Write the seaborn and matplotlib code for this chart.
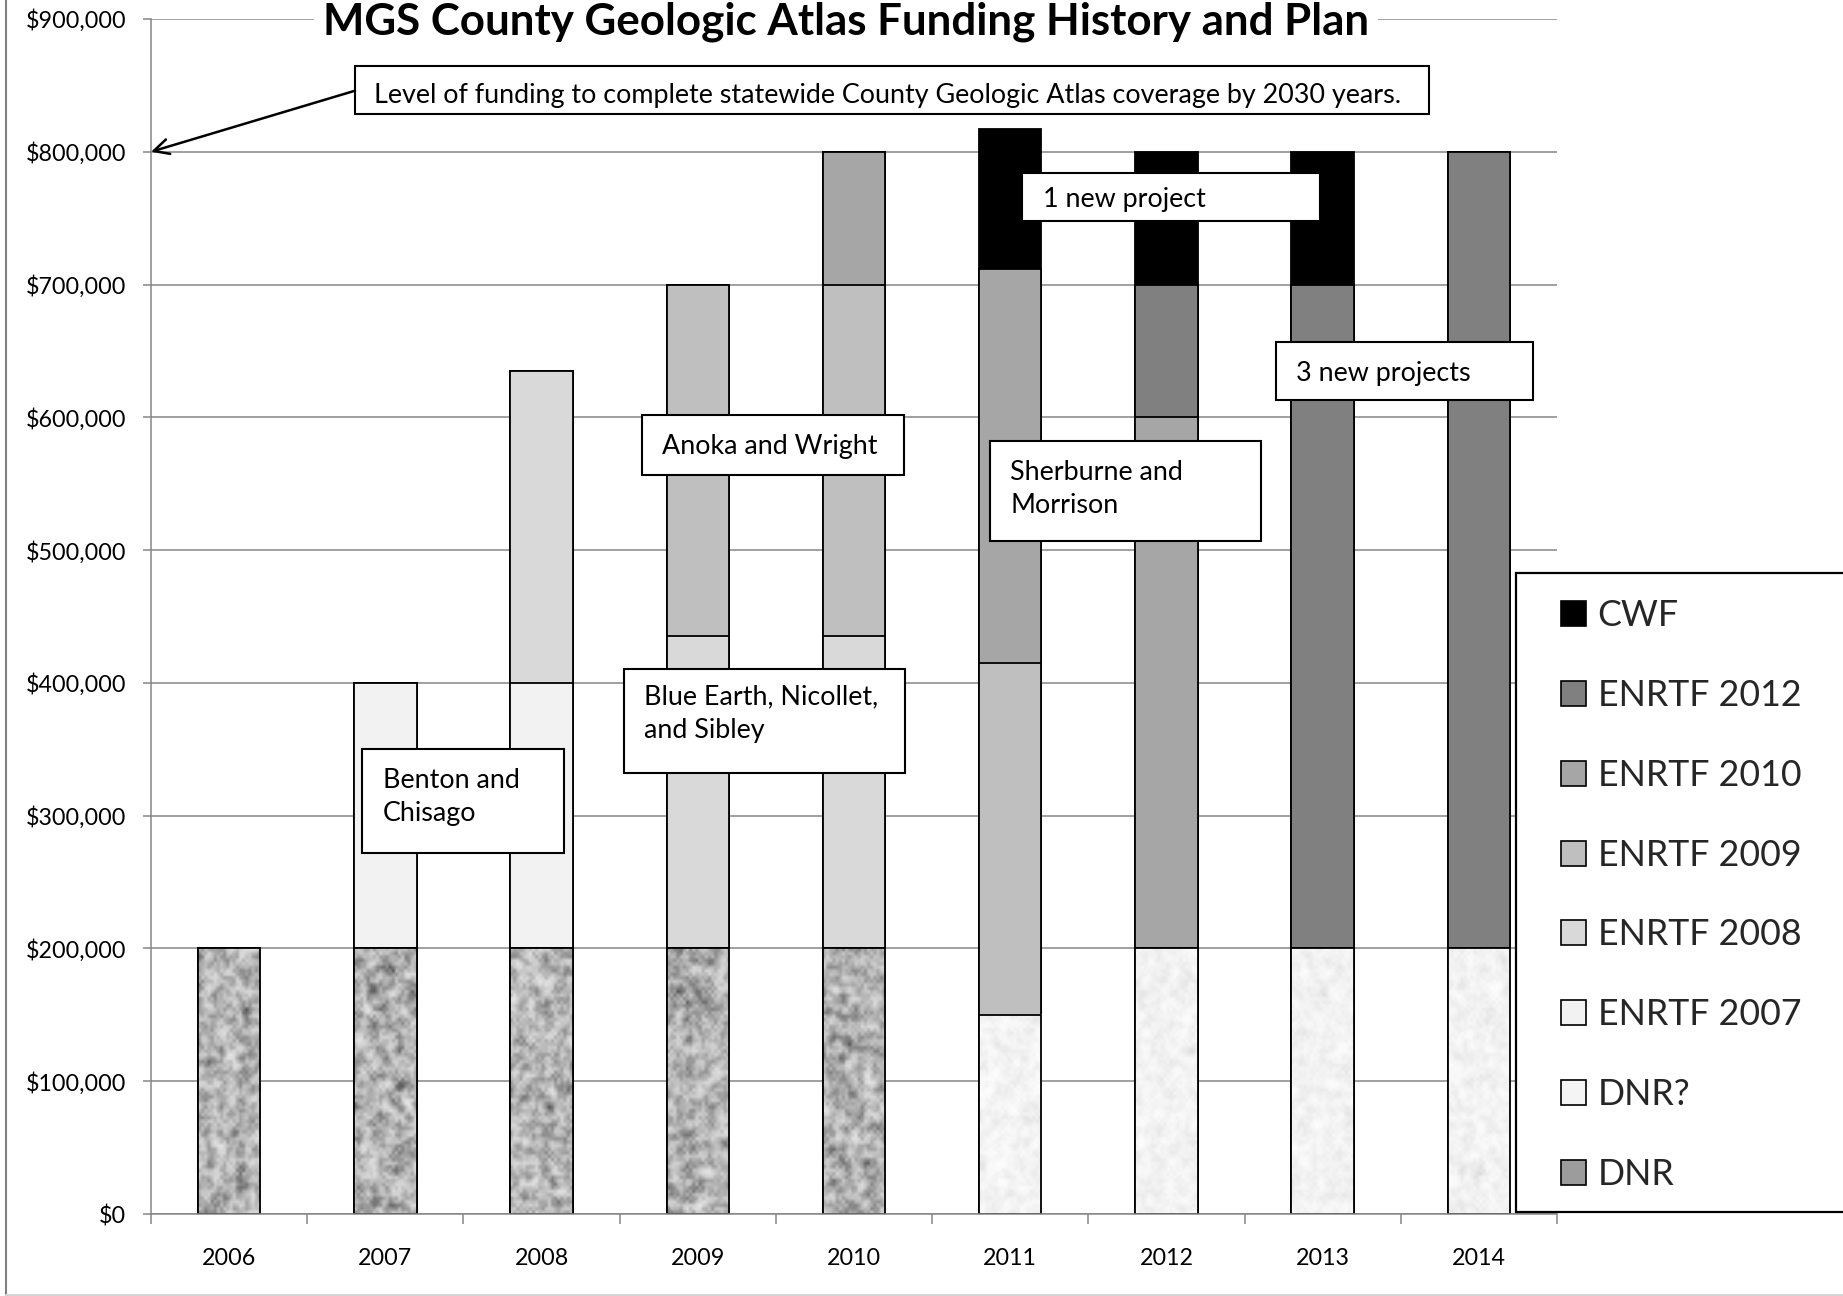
import numpy as np
import pandas as pd
import matplotlib
matplotlib.use("Agg")
import matplotlib.pyplot as plt
import seaborn as sns
from matplotlib.patches import Rectangle, Patch
from matplotlib.lines import Line2D

# ---------------- data ----------------
years = ["2006", "2007", "2008", "2009", "2010", "2011", "2012", "2013", "2014"]
dnr        = [200000, 200000, 200000, 200000, 200000, 0, 0, 0, 0]
dnr_q      = [0, 0, 0, 0, 0, 150000, 200000, 200000, 200000]
enrtf_2007 = [0, 200000, 200000, 0, 0, 0, 0, 0, 0]
enrtf_2008 = [0, 0, 235000, 235000, 235000, 0, 0, 0, 0]
enrtf_2009 = [0, 0, 0, 265000, 265000, 265000, 0, 0, 0]
enrtf_2010 = [0, 0, 0, 0, 100000, 297000, 400000, 0, 0]
enrtf_2012 = [0, 0, 0, 0, 0, 0, 100000, 500000, 600000]
cwf        = [0, 0, 0, 0, 0, 105000, 100000, 100000, 0]

series_names = ["DNR", "DNR?", "ENRTF 2007", "ENRTF 2008", "ENRTF 2009",
                "ENRTF 2010", "ENRTF 2012", "CWF"]
series_values = [dnr, dnr_q, enrtf_2007, enrtf_2008, enrtf_2009,
                 enrtf_2010, enrtf_2012, cwf]
series_colors = ["#a4a4a4", "#f0f0f0", "#f2f2f2", "#d9d9d9", "#bfbfbf",
                 "#a6a6a6", "#808080", "#000000"]

y_ticks = [0, 100000, 200000, 300000, 400000, 500000, 600000, 700000, 800000, 900000]
y_tick_labels = ["$0", "$100,000", "$200,000", "$300,000", "$400,000",
                 "$500,000", "$600,000", "$700,000", "$800,000", "$900,000"]

title_text = "MGS County Geologic Atlas Funding History and Plan"
level_note = "Level of funding to complete statewide County Geologic Atlas coverage by 2030 years."
level_value = 800000
notes = ["1 new project", "3 new projects", "Anoka and Wright",
         "Sherburne and\nMorrison", "Blue Earth, Nicollet,\nand Sibley",
         "Benton and\nChisago"]

# ---------------- style ----------------
sns.set_theme(style="white")
plt.rcParams["font.family"] = ["Lato", "DejaVu Sans"]
GRAY = "#868686"

W, H = 1843, 1296
fig = plt.figure(figsize=(W / 100, H / 100), dpi=100)
ax_l, ax_r, ax_t, ax_b = 151, 1557, 19, 1214
ax = fig.add_axes([ax_l / W, 1 - ax_b / H, (ax_r - ax_l) / W, (ax_b - ax_t) / H])
renderer = fig.canvas.get_renderer()


def fit_size(s, target_px, base=20, **kw):
    t = fig.text(0, 0, s, fontsize=base, **kw)
    w = t.get_window_extent(renderer).width
    t.remove()
    return base * target_px / w


# ---------------- stacked bars via cumulative overlay ----------------
cum = np.zeros(len(years))
cums = []
for vals in series_values:
    cum = cum + np.array(vals, dtype=float)
    cums.append(cum.copy())

BAR_W = 0.4
BAR_LW = 1.3
layer_patches = {}
for idx in range(len(series_names) - 1, -1, -1):
    before = len(ax.patches)
    sns.barplot(x=years, y=cums[idx], color=series_colors[idx], width=BAR_W,
                saturation=1, edgecolor="black", linewidth=BAR_LW,
                errorbar=None, ax=ax, zorder=1)
    layer_patches[series_names[idx]] = ax.patches[before:]

# ---------------- stone textures for DNR layers ----------------
def smooth(a):
    return (a + np.roll(a, 1, 0) + np.roll(a, -1, 0) + np.roll(a, 1, 1) + np.roll(a, -1, 1)) / 5


def make_texture(rows, cols, offset, lo, hi, gamma):
    i, j = np.mgrid[0:rows, 0:cols].astype(float)
    n = np.sin((i + offset * 97.0) * 12.9898 + (j + offset * 31.0) * 78.233) * 43758.5453
    n = n - np.floor(n)
    s = smooth(smooth(n))
    s = (s - s.min()) / (s.max() - s.min())
    t = 0.7 * s + 0.3 * n
    t = (t - t.min()) / (t.max() - t.min())
    t = t ** gamma
    return lo + (hi - lo) * t

texture_range = {"DNR": (0.32, 0.90, 0.6), "DNR?": (0.86, 0.99, 0.5)}
for li, name in enumerate(series_names):
    if name not in texture_range:
        continue
    lo, hi, gm = texture_range[name]
    vals = series_values[li]
    bottoms = cums[li] - np.array(vals, dtype=float)
    for k, p in enumerate(layer_patches[name]):
        if vals[k] <= 0:
            continue
        x0, w = p.get_x(), p.get_width()
        y0, y1 = bottoms[k], bottoms[k] + vals[k]
        rows = max(int((y1 - y0) / 2600), 8)
        tex = make_texture(rows, 20, k + li * 11, lo, hi, gm)
        ax.imshow(tex, cmap="gray", vmin=0, vmax=1, extent=(x0, x0 + w, y0, y1),
                  aspect="auto", interpolation="bilinear", origin="lower", zorder=1.5)
        ax.add_patch(Rectangle((x0, y0), w, y1 - y0, fill=False, edgecolor="black",
                               linewidth=BAR_LW, zorder=1.6))

# ---------------- axes styling ----------------
ax.set_xlim(-0.5, len(years) - 0.5)
ax.set_ylim(0, 900000)
ax.set_xlabel("")
ax.set_ylabel("")
ax.set_axisbelow(True)
ax.yaxis.grid(True, color=GRAY, linewidth=1.1)
ax.xaxis.grid(False)
for s in ["top", "right"]:
    ax.spines[s].set_visible(False)
for s in ["left", "bottom"]:
    ax.spines[s].set_color(GRAY)
    ax.spines[s].set_linewidth(1.1)

fs_tick = fit_size("$900,000", 100)
ax.set_yticks(y_ticks, y_tick_labels)
ax.tick_params(axis="y", length=6, width=1.1, color=GRAY, pad=12,
               labelsize=fs_tick, left=True, labelcolor="black")
ax.set_xticks(np.arange(-0.5, len(years), 1.0))
ax.set_xticks(np.arange(len(years)), years, minor=True)
ax.tick_params(axis="x", which="major", length=7, width=1.1, color=GRAY,
               bottom=True, labelbottom=False, direction="out")
ax.tick_params(axis="x", which="minor", length=0, pad=24.5, labelsize=fs_tick,
               bottom=True, labelbottom=True, labelcolor="black")

# ---------------- title ----------------
fs_title = fit_size(title_text, 1046, fontweight="bold")
title_px = fs_title * 100 / 72
fig.text(846 / W, 1 - 2 / H, title_text, ha="center", va="top",
         fontsize=fs_title, fontweight="bold", color="black",
         bbox=dict(boxstyle="square,pad=%.3f" % (9 / title_px), fc="white", ec="none"))

# ---------------- annotation boxes ----------------
fs_box = fit_size(level_note, 1027)
BOX_LW = 1.5
LS2 = 1.43


def note_box(x0, x1, y0, y1, tx, ty, text):
    ax.add_patch(Rectangle((x0, y0), x1 - x0, y1 - y0, facecolor="white",
                           edgecolor="black", linewidth=BOX_LW, zorder=5, clip_on=False))
    ax.text(tx, ty, text, ha="left", va="center", fontsize=fs_box, zorder=6,
            linespacing=LS2, color="black")

note_box(0.806, 7.681, 828500, 864600, 0.927, 842500, level_note)
ax.annotate("", xy=(-0.5, level_value), xytext=(0.806, 846000),
            arrowprops=dict(arrowstyle="->,head_length=0.9,head_width=0.45",
                            lw=1.8, color="black", shrinkA=0, shrinkB=0),
            annotation_clip=False, zorder=6)
note_box(5.075, 6.983, 747800, 784000, 5.210, 764400, notes[0])
note_box(6.701, 8.346, 613000, 656700, 6.829, 633100, notes[1])
note_box(2.643, 4.320, 556500, 601900, 2.771, 578300, notes[2])
note_box(4.871, 6.605, 506800, 582200, 4.999, 546100, notes[3])
note_box(2.528, 4.327, 332100, 410400, 2.656, 377000, notes[4])
note_box(0.851, 2.144, 271900, 350200, 0.985, 314000, notes[5])

# ---------------- legend ----------------
fs_leg = fit_size("ENRTF 2012", 203)
fpx = fs_leg * 100 / 72
legend_face = {"DNR": "#9c9c9c", "DNR?": "#f4f4f4"}
handles = []
labels = []
for li in range(len(series_names) - 1, -1, -1):
    nm = series_names[li]
    handles.append(Patch(facecolor=legend_face.get(nm, series_colors[li]),
                         edgecolor="black", linewidth=1.2))
    labels.append(nm)
fig.add_artist(Rectangle((1516 / W, 1 - 1212 / H), 400 / W, (1212 - 573) / H,
                         transform=fig.transFigure, facecolor="white",
                         edgecolor="black", linewidth=1.6, zorder=4))
leg = fig.legend(handles=handles, labels=labels, loc="center left",
                 bbox_to_anchor=(1561 / W, 1 - 895 / H), frameon=False,
                 fontsize=fs_leg, handlelength=25 / fpx, handleheight=25 / fpx,
                 handletextpad=11.5 / fpx, labelspacing=(80.9 - 0.95 * fpx) / fpx,
                 borderpad=0, borderaxespad=0)
leg.set_zorder(5)

# ---------------- outer chart border ----------------
fig.add_artist(Line2D([6 / W, 6 / W], [1 - 1295 / H, 1.0], transform=fig.transFigure,
                      color="#7f7f7f", linewidth=1.5))
fig.add_artist(Line2D([6 / W, 1.0], [1 - 1295 / H, 1 - 1295 / H], transform=fig.transFigure,
                      color="#d4d4d4", linewidth=1.5))

fig.savefig("out.png", dpi=100, facecolor="white")
